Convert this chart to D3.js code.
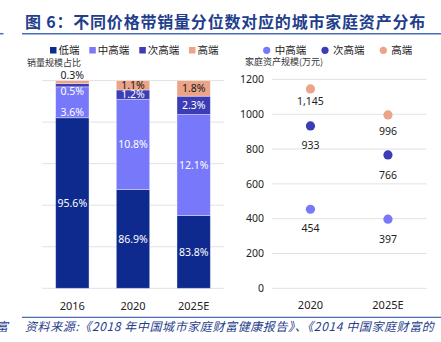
<!DOCTYPE html>
<html><head><meta charset="utf-8">
<script src="https://cdn.jsdelivr.net/npm/d3@7"></script>
<style>
body{margin:0;background:#fff;}
svg{display:block;font-family:"Noto Sans","Noto Sans CJK SC",sans-serif;}
</style></head>
<body>
<svg id="c" width="441" height="342"></svg>
<script>
// ---- data ----
const titleText = "图 6：不同价格带销量分位数对应的城市家庭资产分布";
const sourceText = "资料来源:《2018 年中国城市家庭财富健康报告》、《2014 中国家庭财富的";
const barYears = ["2016", "2020", "2025E"];
const segNames = ["低端", "中高端", "次高端", "高端"];
// drawn segment heights
const lowH  = [82.1, 47.6, 35.0];
const midH  = [14.9, 43.4, 48.7];
const nextH = [1.6, 4.5, 8.8];
const highH = [1.4, 4.5, 7.5];
// printed labels
const lowLbl  = ["95.6%", "86.9%", "83.8%"];
const midLbl  = ["3.6%", "10.8%", "12.1%"];
const nextLbl = ["0.5%", "1.2%", "2.3%"];
const highLbl = ["0.3%", "1.1%", "1.8%"];
const leftTicks = [0, 20, 40, 60, 80, 100];

const dotYears = ["2020", "2025E"];
const dotNames = ["中高端", "次高端", "高端"];
const dotMid  = [454, 397];
const dotNext = [933, 766];
const dotHigh = [1145, 996];
const rightTicks = [0, 200, 400, 600, 800, 1000, 1200];

const colors = {"低端":"#0e2a8e", "中高端":"#7878fb", "次高端":"#3c3cb6", "高端":"#eba487"};
const blue = "#1f3e8c";

const svg = d3.select("#c");

// ---- title ----
svg.append("text").attr("x", 25).attr("y", 28).attr("fill", blue)
  .attr("font-size", 16).attr("font-weight", "bold").attr("letter-spacing", 0.8)
  .attr("font-family", "'Noto Sans CJK SC',sans-serif").text(titleText);
svg.append("line").attr("x1", 22).attr("x2", 441).attr("y1", 33.7).attr("y2", 33.7)
  .attr("stroke", "#4a6db3").attr("stroke-width", 1.5);
svg.append("line").attr("x1", 0).attr("x2", 3.5).attr("y1", 33.7).attr("y2", 33.7)
  .attr("stroke", "#4a6db3").attr("stroke-width", 1.5);

// ---- source ----
svg.append("line").attr("x1", 22).attr("x2", 441).attr("y1", 317.3).attr("y2", 317.3)
  .attr("stroke", "#4a6db3").attr("stroke-width", 1.2);
svg.append("text").attr("x", 25).attr("y", 331).attr("fill", blue)
  .attr("font-size", 12).attr("font-style", "italic").attr("letter-spacing", 0.6)
  .attr("font-family", "'Noto Sans CJK SC',sans-serif").text(sourceText);
svg.append("text").attr("x", -4).attr("y", 331).attr("fill", blue)
  .attr("font-size", 12).attr("font-style", "italic")
  .attr("font-family", "'Noto Sans CJK SC',sans-serif").text("富");

// ---- left chart ----
const x = d3.scaleBand().domain(barYears).range([42, 224]).paddingInner(0.45).paddingOuter(0.225);
const y = d3.scaleLinear().domain([0, 100]).range([288.3, 80.6]);

svg.append("g").selectAll("line").data(leftTicks).join("line")
  .attr("x1", 42).attr("x2", 224).attr("y1", d => y(d)).attr("y2", d => y(d))
  .attr("stroke", "#e2e2e2").attr("stroke-width", 1);

const rows = barYears.map((yr, i) => ({year: yr, "低端": lowH[i], "中高端": midH[i], "次高端": nextH[i], "高端": highH[i],
  lbl: {"低端": lowLbl[i], "中高端": midLbl[i], "次高端": nextLbl[i], "高端": highLbl[i]}}));
const stack = d3.stack().keys(segNames)(rows);

const segG = svg.append("g");
stack.forEach(layer => {
  segG.append("g").selectAll("rect").data(layer).join("rect")
    .attr("x", d => x(d.data.year)).attr("width", x.bandwidth())
    .attr("y", d => y(d[1])).attr("height", d => y(d[0]) - y(d[1]))
    .attr("fill", colors[layer.key])
    .attr("stroke", "rgba(255,255,255,0.45)").attr("stroke-width", 0.8);
});

// label placement tweaks for the crowded 2016 bar
const shift = {"2016": {"高端": "above", "次高端": 6, "中高端": 9.5}};
const lblG = svg.append("g").attr("font-size", 10.5).attr("text-anchor", "middle");
stack.forEach(layer => {
  layer.forEach(d => {
    const yr = d.data.year;
    let cy = (y(d[0]) + y(d[1])) / 2;
    const s = shift[yr] && shift[yr][layer.key];
    if (s === "above") cy = y(d[1]) - 5;
    else if (s) cy += s;
    const dark = layer.key === "高端";
    lblG.append("text").attr("x", x(yr) + x.bandwidth() / 2).attr("y", cy).attr("dy", "0.36em")
      .attr("fill", dark ? "#1a1a1a" : "#ffffff").text(d.data.lbl[layer.key]);
  });
});

svg.append("g").attr("font-size", 11).attr("text-anchor", "middle").attr("fill", "#222")
  .selectAll("text").data(barYears).join("text")
  .attr("x", d => x(d) + x.bandwidth() / 2).attr("y", 306).attr("dy", "0.36em").text(d => d);

svg.append("text").attr("x", 27).attr("y", 66).attr("font-size", 9).attr("fill", "#333")
  .attr("font-family", "'Noto Sans CJK SC',sans-serif").text("销量规模占比");

// left legend
const legL = [50, 89.3, 139.3, 189];
segNames.forEach((n, i) => {
  svg.append("rect").attr("x", legL[i]).attr("y", 47).attr("width", 6.5).attr("height", 6.5).attr("fill", colors[n]);
  svg.append("text").attr("x", legL[i] + 8.5).attr("y", 50.3).attr("dy", "0.36em").attr("font-size", 10.5)
    .attr("fill", "#222").attr("font-family", "'Noto Sans CJK SC',sans-serif").text(n);
});

// ---- right chart ----
const x2 = d3.scalePoint().domain(dotYears).range([271.7, 426.7]).padding(0.5);
const y2 = d3.scaleLinear().domain([0, 1200]).range([288.3, 79.4]);

svg.append("g").selectAll("line").data(rightTicks).join("line")
  .attr("x1", 271.7).attr("x2", 426.7).attr("y1", d => y2(d)).attr("y2", d => y2(d))
  .attr("stroke", "#e2e2e2").attr("stroke-width", 1);
svg.append("g").attr("font-size", 10.5).attr("text-anchor", "end").attr("fill", "#222")
  .selectAll("text").data(rightTicks).join("text")
  .attr("x", 264).attr("y", d => y2(d)).attr("dy", "0.36em").text(d => d);

const dotSeries = [
  {name: "中高端", vals: dotMid, off: [19, 20]},
  {name: "次高端", vals: dotNext, off: [19, 20]},
  {name: "高端", vals: dotHigh, off: [12, 16]}
];
const fmt = d3.format(",");
dotSeries.forEach(s => {
  s.vals.forEach((v, i) => {
    svg.append("circle").attr("cx", x2(dotYears[i])).attr("cy", y2(v)).attr("r", 4.6).attr("fill", colors[s.name]);
    svg.append("text").attr("x", x2(dotYears[i])).attr("y", y2(v) + s.off[i]).attr("dy", "0.36em")
      .attr("text-anchor", "middle").attr("font-size", 10.5).attr("fill", "#222").text(fmt(v));
  });
});

svg.append("g").attr("font-size", 11).attr("text-anchor", "middle").attr("fill", "#222")
  .selectAll("text").data(dotYears).join("text")
  .attr("x", d => x2(d)).attr("y", 305).attr("dy", "0.36em").text(d => d);

svg.append("text").attr("x", 245).attr("y", 64.5).attr("font-size", 9).attr("fill", "#333")
  .attr("font-family", "'Noto Sans CJK SC',sans-serif").text("家庭资产规模(万元)");

// right legend
const legR = [266.7, 325, 383.3];
dotNames.forEach((n, i) => {
  svg.append("circle").attr("cx", legR[i]).attr("cy", 50.3).attr("r", 3.6).attr("fill", colors[n]);
  svg.append("text").attr("x", legR[i] + 8).attr("y", 50.3).attr("dy", "0.36em").attr("font-size", 10.5)
    .attr("fill", "#222").attr("font-family", "'Noto Sans CJK SC',sans-serif").text(n);
});
</script>
</body></html>
